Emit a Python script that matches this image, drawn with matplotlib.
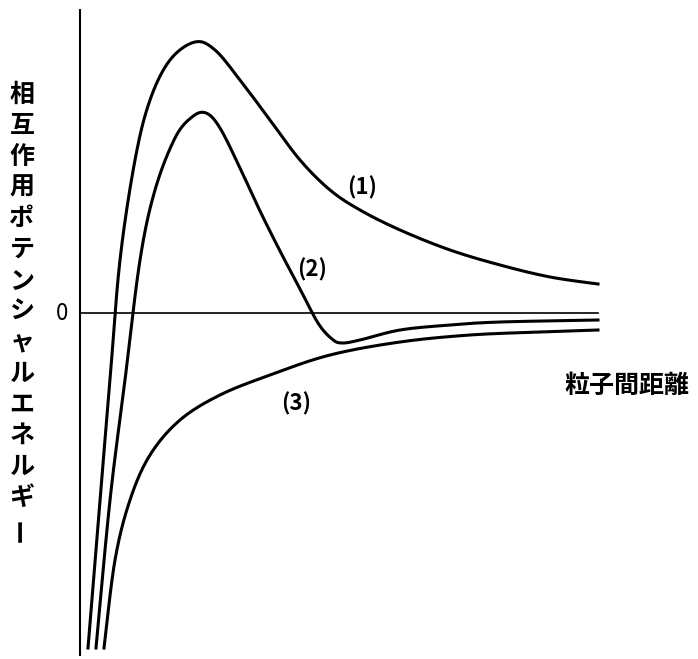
import numpy as np
import matplotlib
matplotlib.use("Agg")
import matplotlib.pyplot as plt

plt.rcParams["font.family"] = ["Noto Sans CJK JP"]

# Curves (x, y) in chart units: x = distance, y = potential (positive up)
c1_x = [88, 100, 110, 120, 135, 150, 170, 195, 215, 240, 270, 300, 330, 360, 400, 450, 500, 550, 598]
c1_y = [-335, -187, -67, 53, 153, 213, 253, 271, 263, 233, 193, 153, 123, 103, 83, 63, 48, 36, 29]
c2_x = [96, 110, 125, 140, 155, 175, 192, 206, 220, 240, 260, 280, 300, 318, 332, 342, 360, 400, 450, 500, 598]
c2_y = [-335, -187, -67, 53, 123, 175, 196, 200, 185, 145, 102, 62, 24, -10, -26, -30, -27, -17, -12, -9, -7]
c3_x = [104, 115, 130, 150, 180, 220, 270, 330, 400, 470, 540, 598]
c3_y = [-335, -247, -187, -142, -107, -82, -62, -42, -29, -22, -19, -17]
labels = ["(1)", "(2)", "(3)"]

def smooth(x, y, n=20):
    x = np.asarray(x, float); y = np.asarray(y, float)
    P = np.column_stack([x, y])
    P = np.vstack([P[0], P, P[-1]])
    out = []
    for i in range(1, len(P) - 2):
        p0, p1, p2, p3 = P[i-1], P[i], P[i+1], P[i+2]
        for t in np.linspace(0, 1, n, endpoint=False):
            t2, t3 = t*t, t*t*t
            out.append(0.5*((2*p1) + (-p0+p2)*t + (2*p0-5*p1+4*p2-p3)*t2 + (-p0+3*p1-3*p2+p3)*t3))
    out.append(P[-2])
    out = np.array(out)
    return out[:, 0], out[:, 1]

fig = plt.figure(figsize=(6.98, 6.59), dpi=100)
ax = fig.add_axes([0, 0, 1, 1])
ax.set_xlim(0, 698)
ax.set_ylim(-346, 313)
ax.axis("off")

for xs, ys in [(c1_x, c1_y), (c2_x, c2_y), (c3_x, c3_y)]:
    sx, sy = smooth(xs, ys)
    ax.plot(sx, sy, color="black", lw=2.2)

ax.plot([80, 80], [-342, 303], color="black", lw=1.5)
ax.plot([80, 598], [0, 0], color="black", lw=1.2)

ax.text(362, 125, labels[0], fontsize=16, ha="center", va="center", fontweight="bold")
ax.text(312, 43, labels[1], fontsize=16, ha="center", va="center", fontweight="bold")
ax.text(296, -91, labels[2], fontsize=16, ha="center", va="center", fontweight="bold")
ax.text(62, 0, "0", fontsize=16, ha="center", va="center")
ax.text(627, -73, "粒子間距離", fontsize=18, ha="center", va="center", fontweight="bold")

ylabel = "相互作用ポテンシャルエネルギ"
y0 = 218
step = 465 / 15
for i, ch in enumerate(ylabel):
    ax.text(22, y0 - i * step, ch, fontsize=18, ha="center", va="center", fontweight="bold")
ax.text(22, y0 - len(ylabel) * step, "ー", fontsize=18, ha="center", va="center",
        rotation=90, fontweight="bold")

fig.savefig("out.png", dpi=100)
